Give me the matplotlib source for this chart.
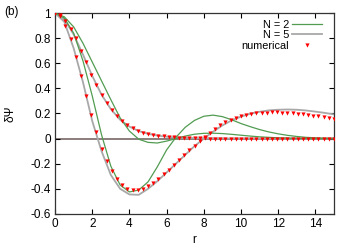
import numpy as np
import matplotlib
matplotlib.use('Agg')
import matplotlib.pyplot as plt
from matplotlib.ticker import FuncFormatter

plt.rcParams['font.family'] = ['Liberation Sans', 'DejaVu Sans']
plt.rcParams['axes.unicode_minus'] = False

# r grid for the model curves (step 0.5) and for the numerical points
r_line = np.arange(0, 15.01, 0.5)
r_num = np.linspace(0, 15, 55)

# steep (oscillating) case
n2_steep = [1.0, 0.96, 0.84, 0.62, 0.34, 0.03, -0.22, -0.37, -0.425, -0.41, -0.345,
            -0.225, -0.09, 0.01, 0.09, 0.145, 0.178, 0.187, 0.175, 0.15, 0.12,
            0.095, 0.072, 0.053, 0.038, 0.026, 0.017, 0.01, 0.006, 0.003, 0.002]
n5_steep = [1.0, 0.93, 0.72, 0.45, 0.14, -0.10, -0.29, -0.40, -0.445, -0.448, -0.40,
            -0.34, -0.27, -0.20, -0.13, -0.06, 0.0, 0.055, 0.105, 0.145, 0.175,
            0.198, 0.214, 0.225, 0.23, 0.232, 0.23, 0.224, 0.215, 0.205, 0.193]
num_steep = [1.0, 0.98, 0.90, 0.79, 0.65, 0.50, 0.34, 0.19, 0.05, -0.08, -0.18,
             -0.26, -0.32, -0.37, -0.40, -0.41, -0.41, -0.40, -0.375, -0.35, -0.32,
             -0.285, -0.25, -0.21, -0.17, -0.13, -0.09, -0.055, -0.02, 0.015, 0.047,
             0.08, 0.107, 0.13, 0.15, 0.165, 0.178, 0.188, 0.196, 0.201, 0.205,
             0.207, 0.208, 0.208, 0.207, 0.205, 0.202, 0.198, 0.194, 0.189, 0.184,
             0.178, 0.172, 0.165, 0.158]

# slowly decaying case
n2_slow = [1.0, 0.97, 0.89, 0.76, 0.61, 0.46, 0.31, 0.165, 0.06, -0.005, -0.03,
           -0.035, -0.02, 0.0, 0.02, 0.035, 0.042, 0.043, 0.04, 0.034, 0.027,
           0.02, 0.014, 0.01, 0.006, 0.004, 0.002, 0.001, 0.0, 0.0, 0.0]
n5_slow = [1.0, 0.95, 0.83, 0.67, 0.50, 0.35, 0.235, 0.15, 0.095, 0.06, 0.038,
           0.024, 0.015, 0.009, 0.006, 0.004, 0.003, 0.002, 0.001, 0.0, 0.0,
           0.0, 0.0, 0.0, 0.0, 0.0, 0.0, 0.0, 0.0, 0.0, 0.0]
num_slow = [1.0, 0.985, 0.94, 0.87, 0.80, 0.70, 0.61, 0.51, 0.43, 0.35, 0.28,
            0.23, 0.18, 0.14, 0.108, 0.087, 0.063, 0.047, 0.039, 0.030, 0.024,
            0.019, 0.015, 0.011, 0.008, 0.006, 0.004, 0.003, 0.002, 0.001, 0.0,
            0.0, 0.0, 0.0, 0.0, 0.0, 0.0, 0.0, 0.0, 0.0, 0.0, 0.0, 0.0, 0.0, 0.0,
            0.0, 0.0, 0.0, 0.0, 0.0, 0.0, 0.0, 0.0, 0.0, 0.0]

green = '#529c52'
grey = '#a8a8a8'

fig = plt.figure(figsize=(3.53, 2.47), dpi=100)
ax = fig.add_axes([0.156, 0.134, 0.79, 0.813])

ax.axhline(0, color='#6e5a5a', lw=1.1, zorder=1)

ax.plot(r_line, n2_steep, color=green, lw=0.9, label='N = 2', zorder=3)
ax.plot(r_line, n2_slow, color=green, lw=0.9, zorder=3)
ax.plot(r_line, n5_steep, color=grey, lw=1.3, label='N = 5', zorder=2)
ax.plot(r_line, n5_slow, color=grey, lw=1.3, zorder=2)
ax.plot(r_num, num_steep, 'v', color='red', ms=3.0, mew=0, label='numerical', zorder=4)
ax.plot(r_num, num_slow, 'v', color='red', ms=3.0, mew=0, zorder=4)

ax.set_xlim(0, 15)
ax.set_ylim(-0.6, 1)
ax.set_xticks(np.arange(0, 15, 2))
ax.set_yticks(np.arange(-0.6, 1.01, 0.2))
ax.yaxis.set_major_formatter(FuncFormatter(lambda v, p: '%g' % round(v, 1)))
ax.tick_params(direction='in', length=3.5, width=0.8, top=True, right=True,
               labelsize=8.5, pad=3)
for s in ax.spines.values():
    s.set_linewidth(0.9)
    s.set_color('#333333')

ax.set_xlabel('r', fontsize=8.5, labelpad=3)
ax.set_ylabel('δΨ', fontsize=8.5, labelpad=10)
fig.text(0.012, 0.94, '(b)', fontsize=8.5)

leg = ax.legend(loc='upper right', bbox_to_anchor=(0.99, 1.01), markerfirst=False,
                frameon=False, fontsize=7.8, handlelength=2.8, handletextpad=0.3,
                labelspacing=0.05, numpoints=1, borderpad=0.3)

plt.savefig('out.png', dpi=100)
